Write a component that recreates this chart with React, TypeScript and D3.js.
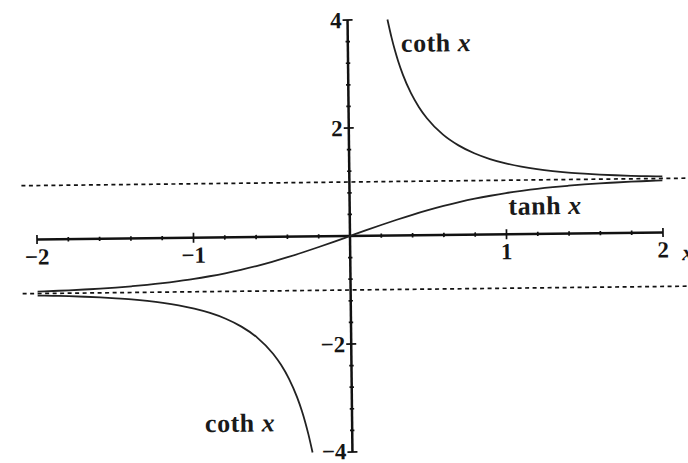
import React from "react";
import * as d3 from "d3";

// tanh x sampled on [-2, 2]
const tanhX = [-2, -1.9, -1.8, -1.7, -1.6, -1.5, -1.4, -1.3, -1.2, -1.1, -1.0, -0.9, -0.8, -0.7, -0.6, -0.5, -0.4, -0.3, -0.2, -0.1, 0,
  0.1, 0.2, 0.3, 0.4, 0.5, 0.6, 0.7, 0.8, 0.9, 1.0, 1.1, 1.2, 1.3, 1.4, 1.5, 1.6, 1.7, 1.8, 1.9, 2];
const tanhY = [-0.964, -0.956, -0.947, -0.935, -0.922, -0.905, -0.885, -0.862, -0.834, -0.800, -0.762, -0.716, -0.664, -0.604, -0.537, -0.462, -0.380, -0.291, -0.197, -0.100, 0,
  0.100, 0.197, 0.291, 0.380, 0.462, 0.537, 0.604, 0.664, 0.716, 0.762, 0.800, 0.834, 0.862, 0.885, 0.905, 0.922, 0.935, 0.947, 0.956, 0.964];

// coth x, positive branch (the negative branch mirrors it)
const cothX = [0.255, 0.28, 0.3, 0.32, 0.35, 0.4, 0.45, 0.5, 0.6, 0.7, 0.8, 0.9, 1.0, 1.1, 1.2, 1.3, 1.4, 1.5, 1.6, 1.7, 1.8, 1.9, 2.0];
const cothY = [4.0, 3.665, 3.433, 3.231, 2.973, 2.632, 2.371, 2.164, 1.862, 1.655, 1.506, 1.396, 1.313, 1.249, 1.199, 1.160, 1.129, 1.105, 1.085, 1.069, 1.056, 1.046, 1.037];

const cothNegX = cothX.map((v) => -v);
const cothNegY = cothY.map((v) => -v);

const asymptotes = [1, -1];
const xTickLabels = [-2, -1, 1, 2];
const yTickLabels = [4, 2, -2, -4];

const W = 688;
const H = 463;
const ox = 350;
const oy = 236;

const x = d3.scaleLinear().domain([-2, 2]).range([ox - 313, ox + 313]);
const y = d3.scaleLinear().domain([-4, 4]).range([oy + 216, oy - 216]);

const line = d3
  .line<[number, number]>()
  .x((d) => x(d[0]))
  .y((d) => y(d[1]))
  .curve(d3.curveMonotoneX);

const zip = (a: number[], b: number[]) => a.map((v, i) => [v, b[i]] as [number, number]);

const fmt = (v: number) => (v < 0 ? "\u2212" + Math.abs(v) : String(v));

const serif = "'Liberation Serif', 'Times New Roman', serif";

export default function App() {
  const xMinor = d3.range(-2, 2.0001, 0.2).filter((v) => Math.abs(v) > 1e-6);
  const yMinor = d3.range(-4, 4.0001, 0.4).filter((v) => Math.abs(v) > 1e-6);
  const ink = "#111";
  const curve = "#222";

  const fn = (name: string, dx: number, dy: number) => (
    <text x={x(dx)} y={y(dy)} fontFamily={serif} fontSize={26} fontWeight="bold" fill="#1a1a1a" letterSpacing={0.5}>
      {name}
      <tspan fontStyle="italic"> x</tspan>
    </text>
  );

  return (
    <svg width={W} height={H} style={{ position: "absolute", left: 0, top: 0, background: "#fff" }}>
      <rect width={W} height={H} fill="#fff" />
      <g transform={`rotate(-0.65, ${ox}, ${oy})`}>
        {/* asymptotes y = ±1 */}
        {asymptotes.map((a) => (
          <line key={a} x1={22} x2={W + 20} y1={y(a)} y2={y(a)} stroke={ink} strokeWidth={1.7} strokeDasharray="4 3.5" />
        ))}

        {/* x axis */}
        <line x1={x(-2)} x2={x(2)} y1={oy} y2={oy} stroke={ink} strokeWidth={2.5} />
        {xMinor.map((v) => {
          const major = Math.abs(Math.abs(v) - 1) < 1e-6;
          const end = Math.abs(Math.abs(v) - 2) < 1e-6;
          const h = major ? 5 : end ? 4.5 : 2.2;
          return <line key={"xt" + v} x1={x(v)} x2={x(v)} y1={oy - h} y2={oy + h} stroke={ink} strokeWidth={1.7} />;
        })}

        {/* y axis */}
        <line x1={ox} x2={ox} y1={y(4)} y2={y(-4)} stroke={ink} strokeWidth={2.5} />
        {yMinor.map((v) => {
          const major = Math.abs(Math.abs(v) - 2) < 1e-6 || Math.abs(Math.abs(v) - 4) < 1e-6;
          const h = major ? 5 : 2.2;
          return <line key={"yt" + v} x1={ox - h} x2={ox + h} y1={y(v)} y2={y(v)} stroke={ink} strokeWidth={1.7} />;
        })}

        {/* curves */}
        <path d={line(zip(tanhX, tanhY)) ?? ""} fill="none" stroke={curve} strokeWidth={1.8} />
        <path d={line(zip(cothX, cothY)) ?? ""} fill="none" stroke={curve} strokeWidth={1.8} />
        <path d={line(zip(cothNegX, cothNegY).reverse()) ?? ""} fill="none" stroke={curve} strokeWidth={1.8} />

        {/* tick labels */}
        {xTickLabels.map((v) => (
          <text key={"xl" + v} x={x(v)} y={oy + 25} textAnchor="middle" fontFamily={serif} fontSize={23} fontWeight="bold" fill="#151515">
            {fmt(v)}
          </text>
        ))}
        {yTickLabels.map((v) => (
          <text key={"yl" + v} x={ox - 6} y={Math.min(y(v) + 8, H - 4)} textAnchor="end" fontFamily={serif} fontSize={23} fontWeight="bold" fill="#151515">
            {fmt(v)}
          </text>
        ))}
        <text x={W - 6} y={oy + 28} fontFamily={serif} fontSize={23} fontWeight="bold" fontStyle="italic" fill="#151515">x</text>

        {/* function labels */}
        {fn("coth", 0.34, 3.4)}
        {fn("tanh", 1.015, 0.36)}
        {fn("coth", -0.94, -3.6)}
      </g>
    </svg>
  );
}
